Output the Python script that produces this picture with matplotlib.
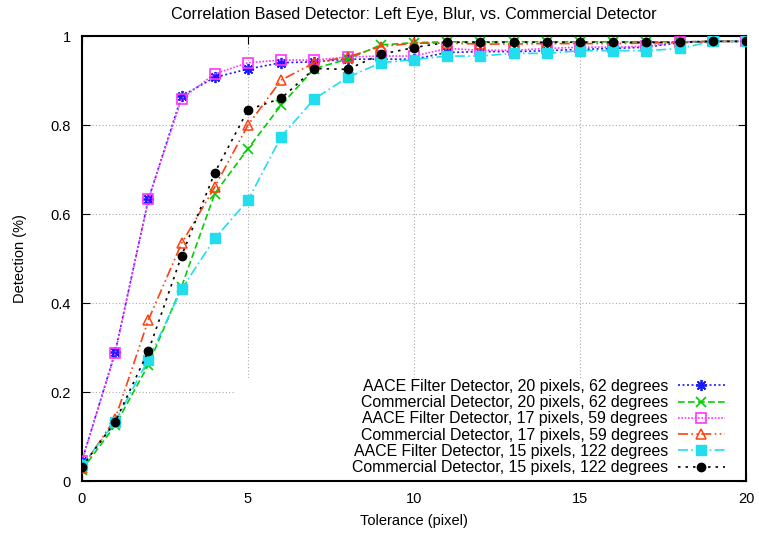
import matplotlib
matplotlib.use("Agg")
import matplotlib.pyplot as plt
from matplotlib.patches import Rectangle

tolerance = list(range(21))

aace_20 = [0.045, 0.290, 0.633, 0.865, 0.907, 0.926, 0.940, 0.942, 0.948, 0.948, 0.948,
           0.963, 0.965, 0.965, 0.967, 0.970, 0.972, 0.975, 0.985, 0.988, 0.988]
comm_20 = [0.025, 0.125, 0.261, 0.437, 0.646, 0.747, 0.845, 0.927, 0.948, 0.980, 0.985,
           0.987, 0.987, 0.987, 0.987, 0.987, 0.987, 0.987, 0.987, 0.988, 0.988]
aace_17 = [0.046, 0.287, 0.633, 0.859, 0.915, 0.940, 0.946, 0.946, 0.953, 0.955, 0.955,
           0.972, 0.968, 0.968, 0.972, 0.975, 0.975, 0.977, 0.987, 0.988, 0.988]
comm_17 = [0.030, 0.140, 0.362, 0.534, 0.661, 0.800, 0.901, 0.940, 0.953, 0.976, 0.984,
           0.984, 0.982, 0.982, 0.983, 0.983, 0.983, 0.984, 0.986, 0.988, 0.988]
aace_15 = [0.035, 0.133, 0.273, 0.431, 0.545, 0.631, 0.774, 0.859, 0.907, 0.940, 0.947,
           0.955, 0.955, 0.961, 0.961, 0.967, 0.967, 0.967, 0.972, 0.988, 0.988]
comm_15 = [0.032, 0.133, 0.292, 0.506, 0.693, 0.834, 0.860, 0.927, 0.925, 0.959, 0.974,
           0.986, 0.986, 0.986, 0.986, 0.986, 0.986, 0.986, 0.986, 0.988, 0.988]

labels = [
    "AACE Filter Detector, 20 pixels, 62 degrees",
    "Commercial Detector, 20 pixels, 62 degrees",
    "AACE Filter Detector, 17 pixels, 59 degrees",
    "Commercial Detector, 17 pixels, 59 degrees",
    "AACE Filter Detector, 15 pixels, 122 degrees",
    "Commercial Detector, 15 pixels, 122 degrees",
]
x_ticks = [0, 5, 10, 15, 20]
y_ticks = [0, 0.2, 0.4, 0.6, 0.8, 1]
y_ticklabels = ["0", "0.2", "0.4", "0.6", "0.8", "1"]

plt.rcParams['font.family'] = ['Liberation Sans', 'DejaVu Sans']

fig = plt.figure(figsize=(7.59, 5.36), dpi=100)
ax = fig.add_axes([0.108, 0.1026, 0.875, 0.8302])

series = [aace_20, comm_20, aace_17, comm_17, aace_15, comm_15]
styles = [
    dict(color='#1a1aff', ls=(0, (1.2, 1.5)), marker=(8, 2, 0), ms=8, mfc='none', mew=1.3),
    dict(color='#00d000', ls=(0, (4, 2)), marker='x', ms=7, mew=1.2),
    dict(color='#ff33ff', ls=(0, (1, 1)), marker='s', ms=7, mfc='none', mew=1.2),
    dict(color='#ff4010', ls=(0, (6, 2, 1, 2, 1, 2)), marker='^', ms=7, mfc='none', mew=1.1),
    dict(color='#22ddee', ls=(0, (6, 2, 1, 2)), marker='s', ms=6.5, mfc='#22ddee', mew=1),
    dict(color='#000000', ls=(0, (1.5, 3)), marker='o', ms=6, mfc='black', mew=1),
]
for vals, lab, st in zip(series, labels, styles):
    ax.plot(tolerance, vals, label=lab, lw=1.2, zorder=3, **st)

ax.set_xlim(0, 20)
ax.set_ylim(0, 1)
ax.set_xticks(x_ticks)
ax.set_xticklabels([str(t) for t in x_ticks])
ax.set_yticks(y_ticks)
ax.set_yticklabels(y_ticklabels)
ax.tick_params(direction='in', top=True, right=True, length=6, labelsize=10.5, pad=8)
ax.grid(True, color='#aaaaaa', ls=(0, (1, 2)), lw=0.8)
ax.set_axisbelow(True)
for sp in ax.spines.values():
    sp.set_linewidth(1.5)

ax.add_patch(Rectangle((4.65, 0), 20 - 4.65, 0.232, facecolor='white',
                       edgecolor='none', zorder=1.5))

ax.set_title("Correlation Based Detector: Left Eye, Blur, vs. Commercial Detector",
             fontsize=11.6, pad=12)
ax.set_xlabel("Tolerance (pixel)", fontsize=10.5, labelpad=6)
ax.set_ylabel("Detection (%)", fontsize=10.5, labelpad=17)

leg = ax.legend(loc='lower right', bbox_to_anchor=(0.985, -0.012), markerfirst=False,
                frameon=False, fontsize=11.4, labelspacing=0.08, handlelength=3.0,
                handletextpad=0.6, borderpad=0.2)

fig.savefig("out.png", dpi=100)
